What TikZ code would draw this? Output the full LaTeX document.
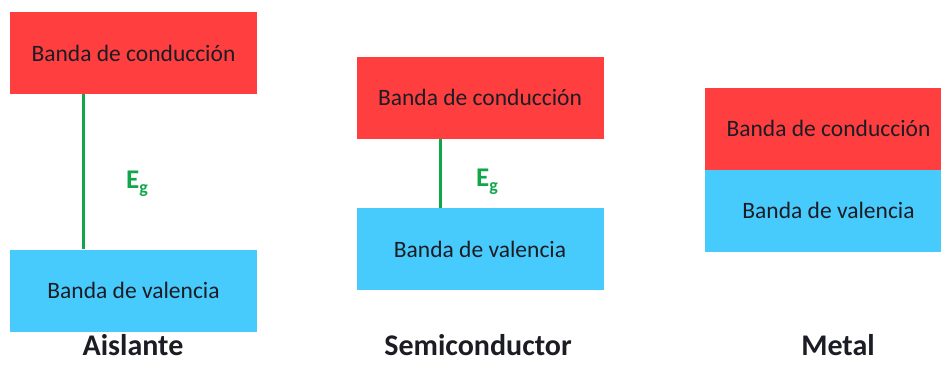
\documentclass[tikz,border=0pt]{standalone}
\usepackage{fontspec}
\setmainfont{Carlito}
\usepackage{xcolor}
\usetikzlibrary{calc,positioning}
\definecolor{bandred}{HTML}{FF3F3F}
\definecolor{bandblue}{HTML}{47CBFC}
\definecolor{gapgreen}{HTML}{12A64A}
\definecolor{bandtext}{HTML}{1C1C24}
\tikzstyle{centered} = [align=center, text centered, text=bandtext]
\tikzset{
  % node styles
  band/.style={centered, rectangle, minimum width=247pt, minimum height=82pt, inner sep=0pt, font=\fontsize{23.5}{26}\selectfont},
  cband/.style={band, fill=bandred},
  vband/.style={band, fill=bandblue},
  title/.style={centered, anchor=base, inner sep=0pt, font=\fontsize{30}{33}\selectfont\bfseries},
  % gap styles
  gap/.style={draw=gapgreen, line width=3pt},
  gaplabel/.style={text=gapgreen, inner sep=0pt},
}
\newcommand{\eglabel}{\fontsize{27}{30}\selectfont\bfseries E\raisebox{-5pt}{\fontsize{18}{20}\selectfont g}}
\begin{document}
\begin{tikzpicture}[x=1pt,y=-1pt]
        \useasboundingbox (0,0) rectangle (941,364);
        % Aislante
        \node(cbA)[cband] at (133.5,53){Banda de conducción};
        \node(vbA)[vband] at (133.5,290.5){Banda de valencia};
        \draw[gap] ([xshift=-50.5pt]cbA.south) -- ([xshift=-50.5pt]vbA.north);
        \node(egA)[gaplabel] at (137,184){\eglabel};
        \node(tA)[title] at (133,355){Aislante};
        % Semiconductor
        \node(cbS)[cband] at (480,97.5){Banda de conducción};
        \node(vbS)[vband] at (480,249){Banda de valencia};
        \draw[gap] ([xshift=-40pt]cbS.south) -- ([xshift=-40pt]vbS.north);
        \node(egS)[gaplabel] at (487,182){\eglabel};
        \node(tS)[title] at (478,355){Semiconductor};
        % Metal
        \node(cbM)[cband] at (828.5,128.5){Banda de conducción};
        \node(vbM)[vband,below=0pt of cbM] {Banda de valencia};
        \node(tM)[title] at (838,355){Metal};
\end{tikzpicture}
\end{document}
